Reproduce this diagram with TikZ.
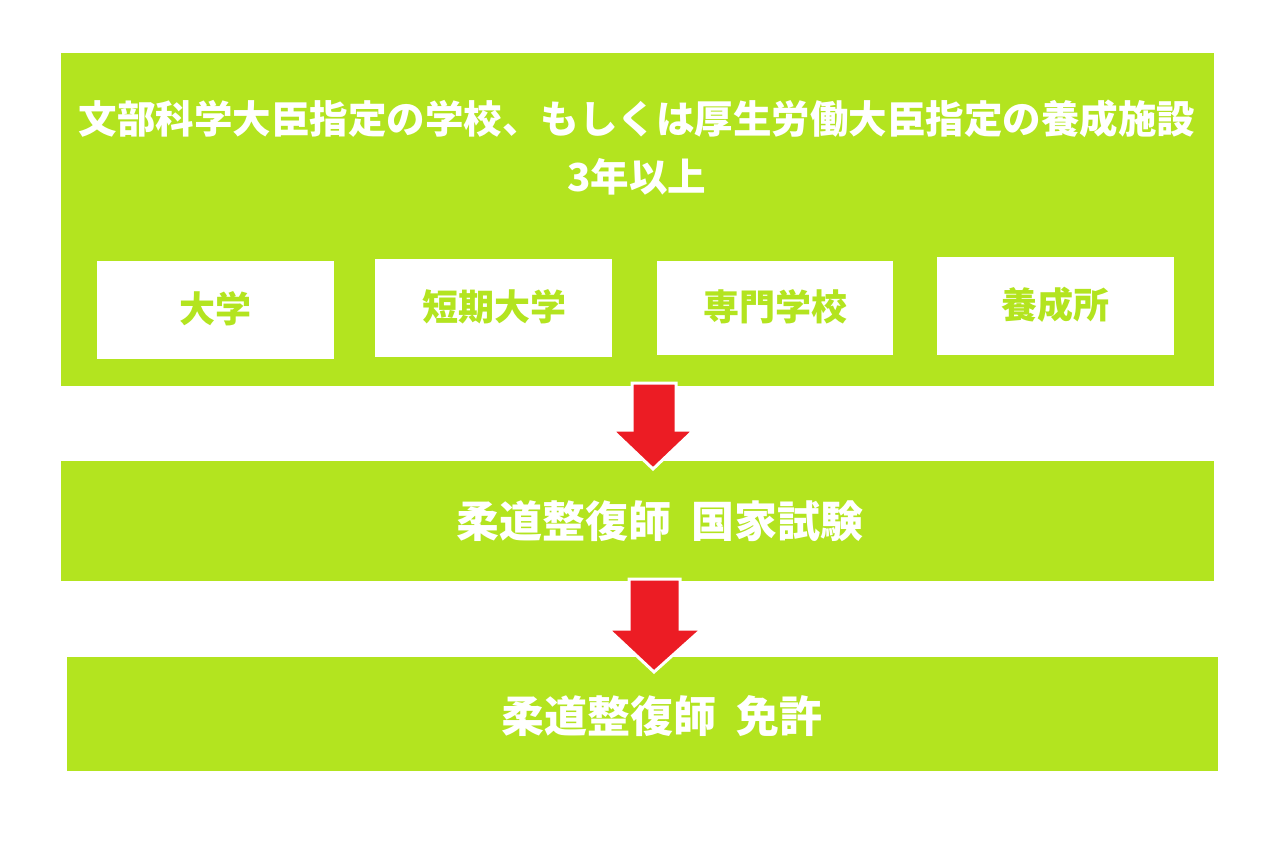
\documentclass[tikz,border=0pt]{standalone}
\usepackage{fontspec}
\setmainfont{Noto Sans CJK JP}
\definecolor{lime}{HTML}{B3E41F}
\definecolor{arrred}{HTML}{EC1C24}
\tikzset{
  band/.style={fill=lime, draw=none},
  wbox/.style={fill=white, draw=none},
  wtxt/.style={text=white, font=\bfseries\fontsize{38.5}{58}\selectfont, align=center, inner sep=0},
  gtxt/.style={text=lime, font=\bfseries\fontsize{36}{40}\selectfont, inner sep=0},
  btxt/.style={text=white, font=\bfseries\fontsize{43}{46}\selectfont, inner sep=0},
  blockarrow/.style={fill=arrred, draw=white, line width=3pt, line join=miter}
}
\begin{document}
\begin{tikzpicture}[x=1pt,y=-1pt]
\useasboundingbox (0,0) rectangle (1280,853);
% bands
\fill[band] (61,53) rectangle (1214,386);
\fill[band] (61,461) rectangle (1214,581);
\fill[band] (67,657) rectangle (1218,771);
% title
\node[wtxt] (title) at (637,148) {文部科学大臣指定の学校、もしくは厚生労働大臣指定の養成施設\\3年以上};
% white boxes
\fill[wbox] (97,261) rectangle (334,359);
\fill[wbox] (375,259) rectangle (612,357);
\fill[wbox] (657,261) rectangle (893,355);
\fill[wbox] (937,257) rectangle (1174,355);
\node[gtxt] (s1) at (215.5,309) {大学};
\node[gtxt] (s2) at (494.5,307) {短期大学};
\node[gtxt] (s3) at (775,307) {専門学校};
\node[gtxt] (s4) at (1055.5,305) {養成所};
% band texts
\node[btxt] (exam) at (660,521) {柔道整復師\hspace{0.45em}国家試験};
\node[btxt] (lic) at (662,716) {柔道整復師\hspace{0.45em}免許};
% arrows
\draw[blockarrow] (632,383) -- (676,383) -- (676,430) -- (694,430) -- (653,469) -- (612,430) -- (632,430) -- cycle;
\draw[blockarrow] (629,579) -- (680,579) -- (680,629) -- (702,629) -- (654,672) -- (608,629) -- (629,629) -- cycle;
\end{tikzpicture}
\end{document}
